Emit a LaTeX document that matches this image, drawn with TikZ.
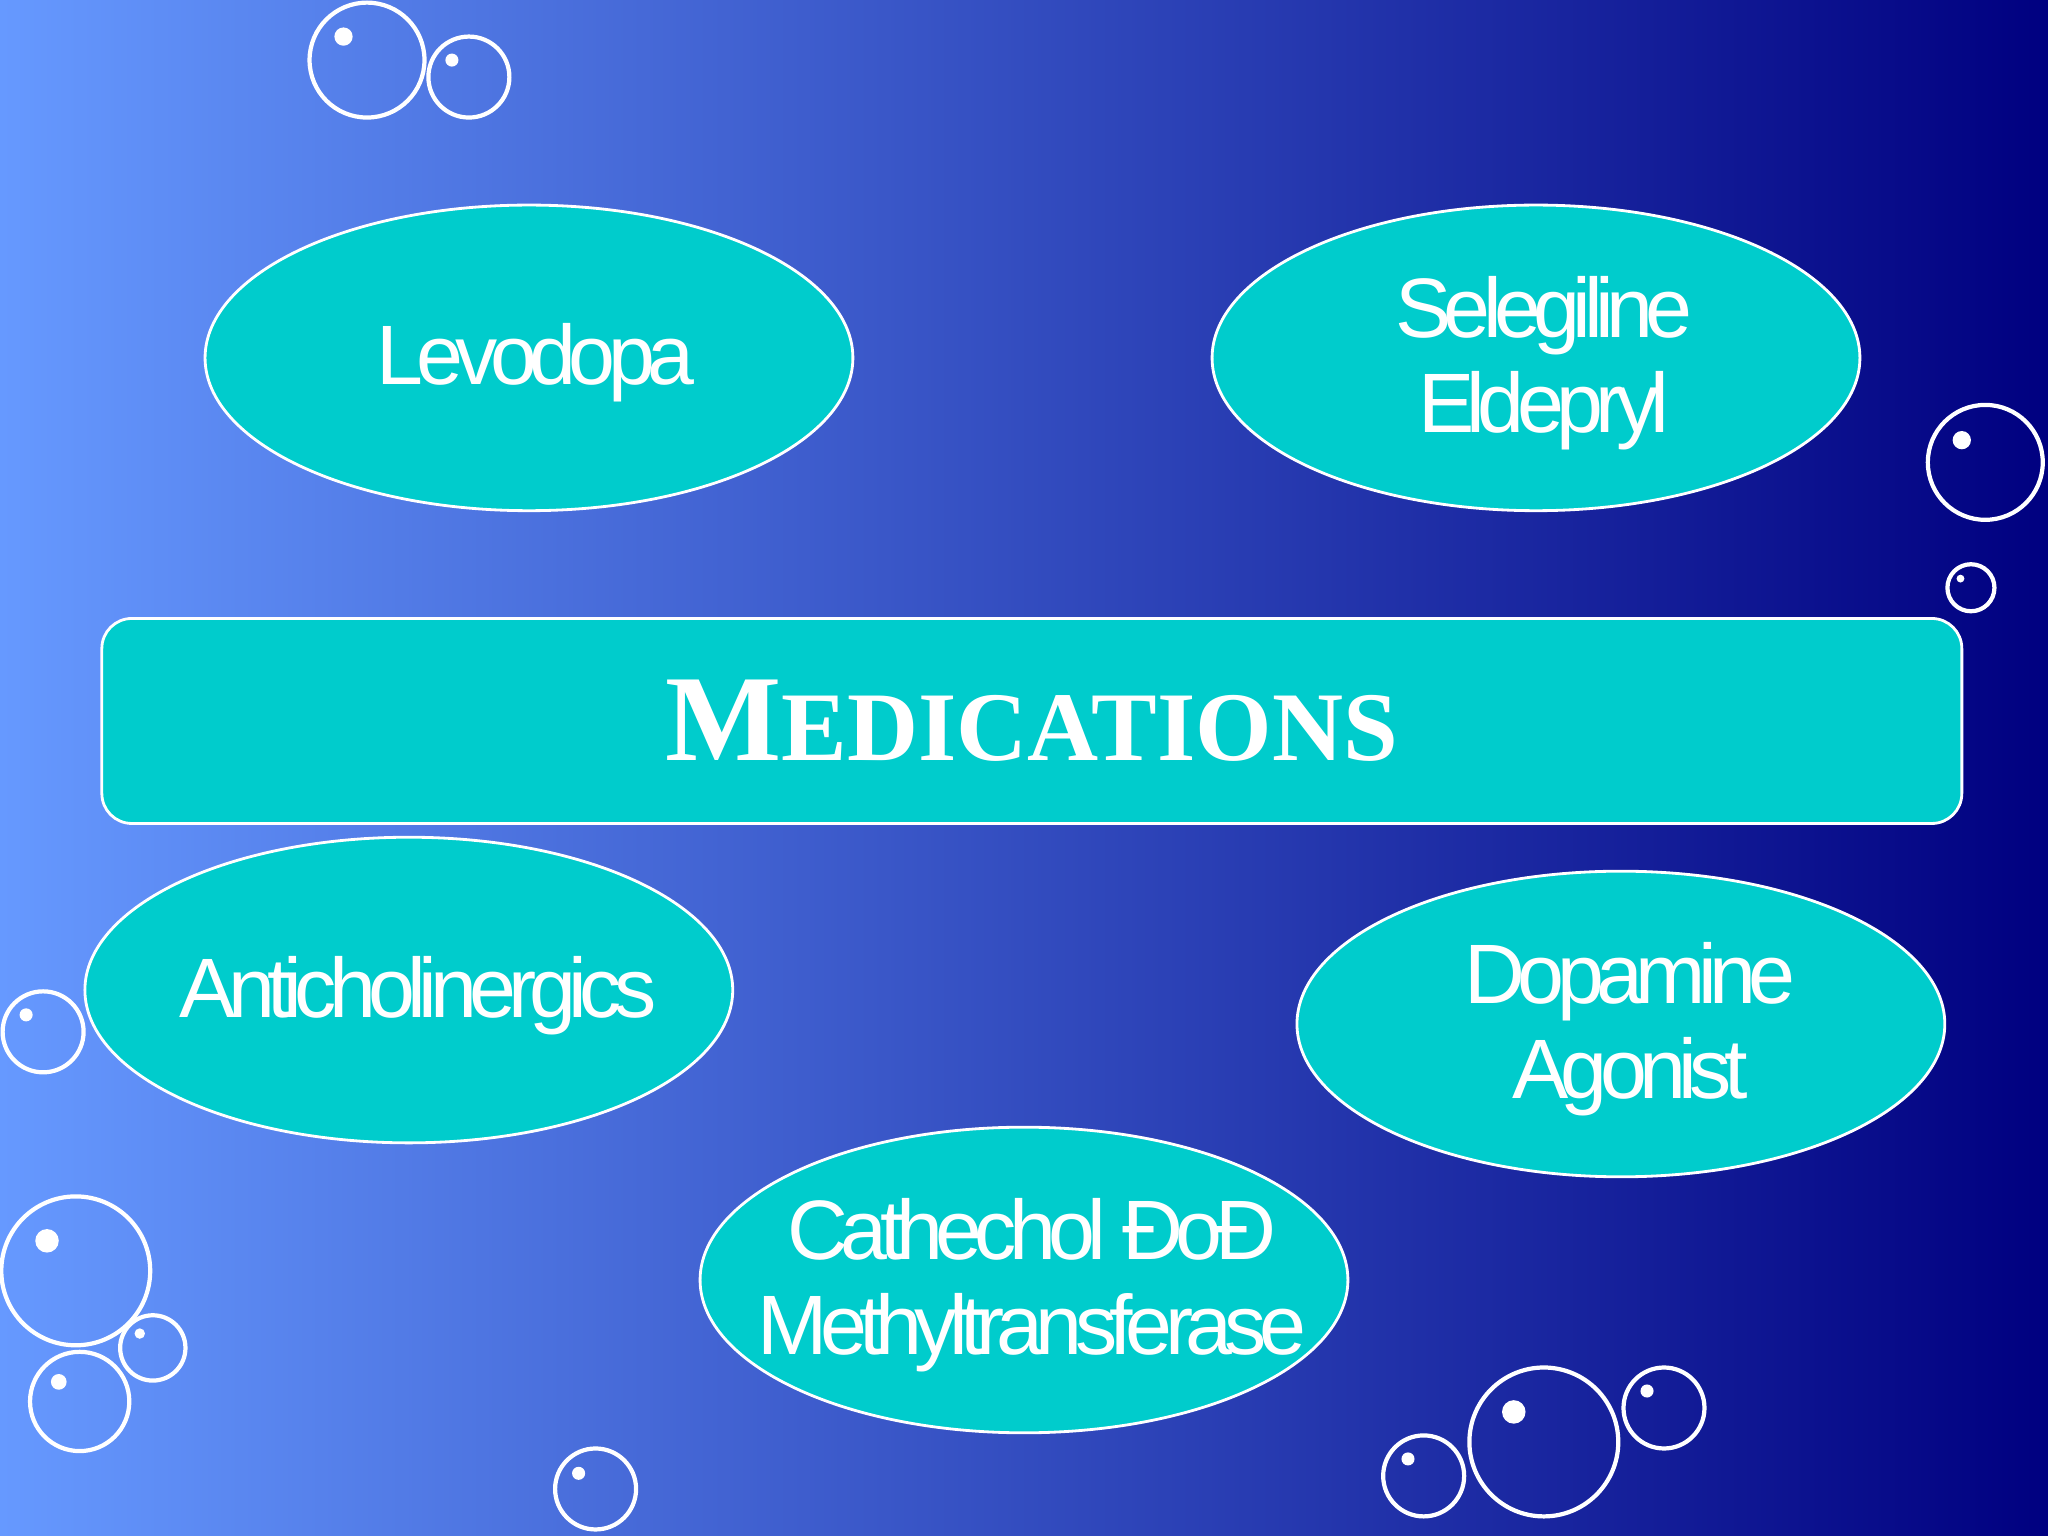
\documentclass[tikz,border=0pt]{standalone}
\usepackage{fontspec}
\setmainfont{Liberation Sans}
\newfontfamily\tight[LetterSpace=-9]{Liberation Sans}
\newfontfamily\serifsc{Liberation Serif}
\definecolor{lb}{RGB}{102,153,255}
\definecolor{nv}{RGB}{0,0,128}
\definecolor{tq}{RGB}{0,204,204}
\begin{document}
\begin{tikzpicture}[x=0.013061cm,y=-0.013061cm,
  oval/.style={text=white,font=\tight\fontsize{24}{25}\selectfont,align=center},
  bub/.style={draw=white,line width=1.2pt}]
\shade[left color=lb,right color=nv] (0,0) rectangle (1568,1176);
\useasboundingbox (0,0) rectangle (1568,1176);
\foreach \x/\y in {405/274,1176/274,313/758,1241/784,784/980}
  \draw[white,fill=tq,line width=0.8pt] (\x,\y) ellipse [x radius=248,y radius=117];
\node[oval] (lev) at (410,278) {Levodopa};
\node[oval] (sel) at (1182,278) {Selegiline\\[2pt]Eldepryl};
\node[oval] (ant) at (320,762) {Anticholinergics};
\node[oval] (dop) at (1248,788) {Dopamine\\[2pt]Agonist};
\node[oval] (com) at (790,984) {Cathechol ĐoĐ\\[2pt]Methyltransferase};
\node[draw=white,fill=tq,rounded corners=0.3cm,line width=0.8pt,minimum width=18.6cm,minimum height=2.05cm,text=white,font=\serifsc\bfseries\fontsize{35}{38}\selectfont] (med) at (790,552) {M{\fontsize{28}{30}\selectfont EDICATIONS}};
\foreach \x/\y/\r/\dx/\dy/\dr in {281/46/44/263/28/7, 359/59/31/346/46/5, 1520/354/44/1502/337/7, 1509/450/18/1501/443/3, 33/790/31/20/777/5, 58/973/57/36/950/9, 117/1032/25/107/1021/4, 61/1073/38/45/1058/6, 456/1140/31/443/1128/5, 1090/1130/31/1078/1117/5, 1182/1104/57/1159/1081/9, 1274/1078/31/1261/1065/5}
{\draw[bub] (\x,\y) circle[radius=\r]; \fill[white] (\dx,\dy) circle[radius=\dr];}
\end{tikzpicture}
\end{document}
